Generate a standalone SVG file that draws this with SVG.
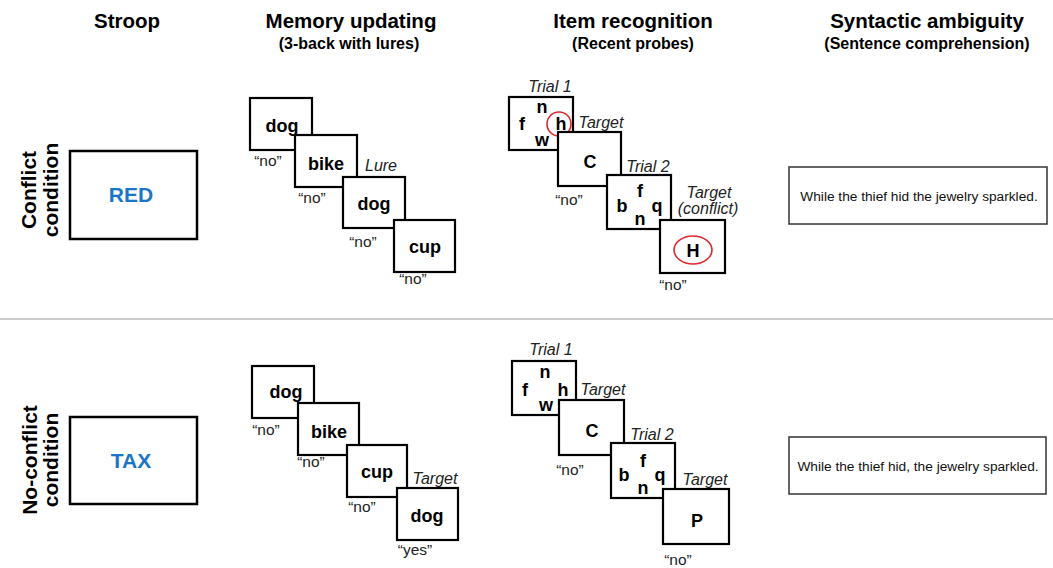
<svg xmlns="http://www.w3.org/2000/svg" width="1053" height="568" viewBox="0 0 1053 568">
<style>
text{font-family:"Liberation Sans",Arial,sans-serif;fill:#000}
.h{font-size:20.5px;font-weight:bold;text-anchor:middle}
.sh{font-size:16px;font-weight:bold;text-anchor:middle}
.row{font-size:21px;font-weight:bold;text-anchor:middle}
.box{fill:#fff;stroke:#000;stroke-width:2.2}
.sbox{fill:#fff;stroke:#000;stroke-width:2.5}
.tbox{fill:#fff;stroke:#333;stroke-width:1.5}
.w{font-size:18px;font-weight:bold;text-anchor:middle}
.blue{font-size:21px;font-weight:bold;text-anchor:middle;fill:#1b75c9}
.ans{font-size:15.5px;text-anchor:middle;fill:#222}
.it{font-size:16px;font-style:italic;text-anchor:middle;fill:#222}
.sent{font-size:13.7px;text-anchor:middle;fill:#111}
.ring{fill:none;stroke:#e0262a;stroke-width:1.6}
</style>
<g id="headers">
<text class="h" x="127" y="28">Stroop</text>
<text class="h" x="351" y="28">Memory updating</text>
<text class="sh" x="349" y="49">(3-back with lures)</text>
<text class="h" x="633" y="28">Item recognition</text>
<text class="sh" x="633" y="49">(Recent probes)</text>
<text class="h" x="927" y="28">Syntactic ambiguity</text>
<text class="sh" x="927" y="49">(Sentence comprehension)</text>
</g>
<g id="row-labels">
<text class="row" transform="translate(36,190) rotate(-90)">Conflict</text>
<text class="row" transform="translate(58,190) rotate(-90)">condition</text>
<text class="row" transform="translate(37,460) rotate(-90)">No-conflict</text>
<text class="row" transform="translate(58,460) rotate(-90)">condition</text>
</g>
<g id="divider"><line x1="0" y1="319" x2="1053" y2="319" stroke="#999" stroke-width="1.2"/></g>
<g id="connectors"></g>
<!-- Conflict row -->
<g id="stroop-conflict"><rect class="sbox" x="70" y="151" width="127" height="88"/><text class="blue" x="131" y="202">RED</text></g>
<g id="mem-c1"><rect class="box" x="250" y="98" width="62" height="52"/><text class="w" x="282" y="132">dog</text><text class="ans" x="268" y="166">“no”</text></g>
<g id="mem-c2"><rect class="box" x="295" y="135" width="62" height="52"/><text class="w" x="326" y="170">bike</text><text class="ans" x="312" y="203">“no”</text><text class="it" x="381" y="171">Lure</text></g>
<g id="mem-c3"><rect class="box" x="343" y="177" width="62" height="51"/><text class="w" x="374" y="210">dog</text><text class="ans" x="363" y="247">“no”</text></g>
<g id="mem-c4"><rect class="box" x="394" y="220" width="61" height="52"/><text class="w" x="425" y="253">cup</text><text class="ans" x="413" y="284">“no”</text></g>
<g id="item-c1"><rect class="box" x="509" y="97" width="64" height="53"/><text class="it" x="550" y="92">Trial 1</text><text class="w" x="542" y="113">n</text><text class="w" x="522" y="130">f</text><text class="w" x="561" y="130">h</text><text class="w" x="542" y="146">w</text><circle class="ring" cx="559" cy="124" r="12"/></g>
<g id="item-c2"><rect class="box" x="558" y="132" width="63" height="54"/><text class="it" x="601" y="128">Target</text><text class="w" x="590" y="168">C</text><text class="ans" x="569" y="205">“no”</text></g>
<g id="item-c3"><rect class="box" x="607" y="175" width="64" height="54"/><text class="it" x="648" y="172">Trial 2</text><text class="w" x="640" y="197">f</text><text class="w" x="622" y="212">b</text><text class="w" x="657" y="212">q</text><text class="w" x="640" y="225">n</text></g>
<g id="item-c4"><rect class="box" x="660" y="220" width="65" height="53"/><text class="it" x="709" y="198">Target</text><text class="it" x="708" y="214">(conflict)</text><text class="w" x="693" y="257">H</text><ellipse class="ring" cx="693" cy="250" rx="19" ry="14"/><text class="ans" x="673" y="290">“no”</text></g>
<g id="syn-conflict"><rect class="tbox" x="789" y="167" width="258" height="57"/><text class="sent" x="919" y="201">While the thief hid the jewelry sparkled.</text></g>
<!-- No-conflict row -->
<g id="stroop-noconflict"><rect class="sbox" x="70" y="417" width="127" height="87"/><text class="blue" x="131" y="468">TAX</text></g>
<g id="mem-n1"><rect class="box" x="252" y="366" width="62" height="52"/><text class="w" x="286" y="398">dog</text><text class="ans" x="266" y="435">“no”</text></g>
<g id="mem-n2"><rect class="box" x="298" y="403" width="61" height="52"/><text class="w" x="329" y="438">bike</text><text class="ans" x="311" y="467">“no”</text></g>
<g id="mem-n3"><rect class="box" x="347" y="445" width="60" height="52"/><text class="w" x="377" y="478">cup</text><text class="ans" x="362" y="512">“no”</text><text class="it" x="435" y="484">Target</text></g>
<g id="mem-n4"><rect class="box" x="397" y="488" width="61" height="52"/><text class="w" x="427" y="522">dog</text><text class="ans" x="415" y="555">“yes”</text></g>
<g id="item-n1"><rect class="box" x="512" y="361" width="64" height="54"/><text class="it" x="551" y="355">Trial 1</text><text class="w" x="545" y="378">n</text><text class="w" x="525" y="396">f</text><text class="w" x="563" y="396">h</text><text class="w" x="546" y="411">w</text></g>
<g id="item-n2"><rect class="box" x="559" y="400" width="65" height="55"/><text class="it" x="603" y="395">Target</text><text class="w" x="592" y="437">C</text><text class="ans" x="570" y="475">“no”</text></g>
<g id="item-n3"><rect class="box" x="611" y="443" width="64" height="55"/><text class="it" x="652" y="440">Trial 2</text><text class="w" x="643" y="467">f</text><text class="w" x="624" y="481">b</text><text class="w" x="660" y="481">q</text><text class="w" x="643" y="494">n</text></g>
<g id="item-n4"><rect class="box" x="663" y="489" width="66" height="55"/><text class="it" x="705" y="485">Target</text><text class="w" x="697" y="527">P</text><text class="ans" x="678" y="565">“no”</text></g>
<g id="syn-noconflict"><rect class="tbox" x="789" y="437" width="257" height="57"/><text class="sent" x="918" y="471">While the thief hid, the jewelry sparkled.</text></g>
</svg>
